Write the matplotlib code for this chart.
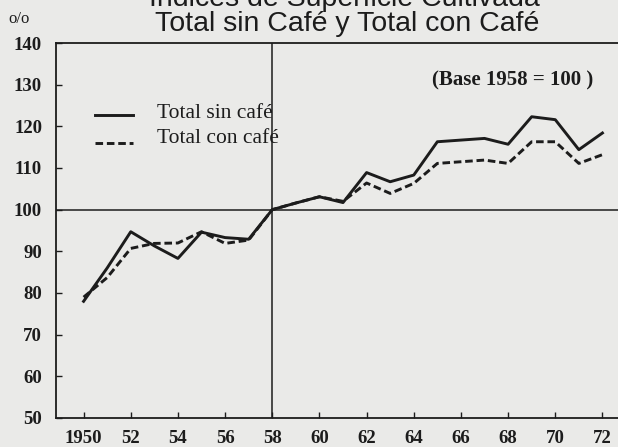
import matplotlib
matplotlib.use("Agg")
import matplotlib.pyplot as plt

years = list(range(1950, 1973))
sin_cafe = [78, 86, 94.7, 91.3, 88.3, 94.6, 93.3, 92.9, 100, 101.6, 103.1, 101.7,
            108.9, 106.7, 108.3, 116.3, 116.7, 117.1, 115.7, 122.3, 121.6, 114.4, 118.4]
con_cafe = [79, 83.7, 90.7, 91.9, 92.0, 94.7, 91.9, 92.7, 100, 101.6, 103.1, 102.0,
            106.4, 103.9, 106.3, 111.1, 111.5, 111.9, 111.1, 116.3, 116.3, 111.1, 113.2]
xtick_years = list(range(1950, 1973, 2))
xtick_labels = ["1950"] + [str(y)[2:] for y in xtick_years[1:]]
yticks = list(range(50, 141, 10))

ink = "#1c1c1c"
paper = "#eaeae8"
serif = "Liberation Serif"
dash = (0, (2.6, 1.3))

fig = plt.figure(figsize=(6.18, 4.47), dpi=100, facecolor=paper)
ax = fig.add_axes([0.0906, 0.0649, 0.9094, 0.8389], facecolor=paper)

ax.plot(years, sin_cafe, color=ink, lw=2.1, solid_joinstyle="round")
ax.plot(years, con_cafe, color=ink, lw=2.1, ls=dash)

ax.axvline(1958, color=ink, lw=1.1)
ax.axhline(100, color=ink, lw=1.1)

ax.set_xlim(1948.83, 1972.66)
ax.set_ylim(50, 140)
ax.set_xticks(xtick_years)
ax.set_xticklabels(xtick_labels)
ax.set_yticks(yticks)
ax.tick_params(direction="in", length=4, width=1, color=ink, labelcolor=ink)
ax.tick_params(axis="y", pad=10)
ax.tick_params(axis="x", pad=9)
for lab in ax.get_xticklabels() + ax.get_yticklabels():
    lab.set_fontfamily(serif)
    lab.set_fontweight("bold")
    lab.set_fontsize(13.5)
ax.spines["right"].set_visible(False)
for s in ("left", "top", "bottom"):
    ax.spines[s].set_color(ink)
    ax.spines[s].set_linewidth(1.3)

# legend, drawn by hand like the original
ax.plot([1950.5, 1952.1], [122.6, 122.6], color=ink, lw=2.1)
ax.plot([1950.5, 1952.1], [116.0, 116.0], color=ink, lw=2.1, ls=dash)
ax.text(1953.1, 123.0, "Total sin café", fontsize=15.5, family=serif, color=ink, va="center")
ax.text(1953.1, 117.1, "Total con café", fontsize=15.5, family=serif, color=ink, va="center")
ax.text(1971.6, 131.0, "(Base 1958 = 100 )", fontsize=15, family=serif, weight="bold",
        color=ink, ha="right", va="center")

fig.text(0.558, 1.003, "Indices de Superficie Cultivada", fontsize=20.5,
         family="Liberation Sans", color=ink, ha="center", va="center")
fig.text(0.562, 0.947, "Total sin Café y Total con Café", fontsize=20.5,
         family="Liberation Sans", color=ink, ha="center", va="center")
fig.text(0.031, 0.958, "o/o", fontsize=12, family=serif, color=ink, ha="center", va="center")

fig.savefig("out.png", dpi=100, facecolor=paper)
